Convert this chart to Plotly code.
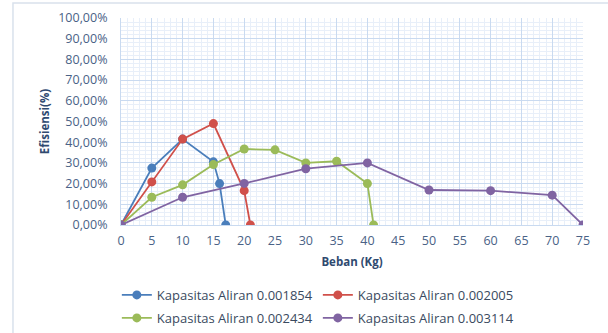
import plotly.graph_objects as go

names = ["Kapasitas Aliran 0.001854", "Kapasitas Aliran 0.002005",
         "Kapasitas Aliran 0.002434", "Kapasitas Aliran 0.003114"]
blue_x = [0, 5, 10, 15, 16, 17]
blue_y = [0, 27.5, 41.5, 30.5, 20.0, 0]
red_x = [0, 5, 10, 15, 20, 21]
red_y = [0, 20.8, 41.5, 49.0, 16.6, 0]
green_x = [0, 5, 10, 15, 20, 25, 30, 35, 40, 41]
green_y = [0, 13.4, 19.4, 29.2, 36.7, 36.3, 30.0, 30.8, 20.0, 0]
purple_x = [0, 10, 20, 30, 40, 50, 60, 70, 75]
purple_y = [0, 13.4, 20.1, 27.2, 30.0, 16.9, 16.6, 14.4, 0]
colors = ["#4a7ebb", "#d0504a", "#9bbb59", "#8064a2"]
legends = ["legend", "legend", "legend2", "legend2"]

y_ticks = list(range(0, 101, 10))
y_text = [f"{v},00%" for v in y_ticks]
x_ticks = list(range(0, 76, 5))

fig = go.Figure()
for nm, xs, ys, c, lg in zip(names, [blue_x, red_x, green_x, purple_x],
                             [blue_y, red_y, green_y, purple_y], colors, legends):
    fig.add_trace(go.Scatter(x=xs, y=ys, name=nm, mode="lines+markers", legend=lg,
                             line=dict(color=c, width=1.8),
                             marker=dict(color=c, size=9)))

tick_color = "#4a6286"
leg_common = dict(orientation="h", xanchor="left", yanchor="middle",
                  entrywidth=156, entrywidthmode="pixels",
                  font=dict(size=13, color="#3a4a60"), itemwidth=30,
                  bgcolor="rgba(0,0,0,0)")
fig.update_layout(
    width=608, height=333,
    margin=dict(l=121, r=25, t=18, b=108, autoexpand=False),
    plot_bgcolor="white", paper_bgcolor="white",
    font=dict(family="Open Sans", size=12.5, color=tick_color),
    xaxis=dict(range=[0, 75], tickvals=x_ticks, showgrid=True,
               gridcolor="#c9daf0", gridwidth=1,
               minor=dict(dtick=1, showgrid=True, gridcolor="#e8eff9", gridwidth=1),
               showline=True, linecolor="#c9daf0", zeroline=False,
               ticks="", ticklabelstandoff=4, tickfont=dict(size=12.5, color=tick_color),
               title=dict(text="<b>Beban (Kg)</b>", font=dict(size=11.5, color="#2f4a70"), standoff=9)),
    yaxis=dict(range=[0, 100], tickvals=y_ticks, ticktext=y_text, showgrid=True,
               gridcolor="#c9daf0", gridwidth=1,
               minor=dict(dtick=2, showgrid=True, gridcolor="#e8eff9", gridwidth=1),
               showline=True, linecolor="#c9daf0", zeroline=False,
               ticks="", ticklabelstandoff=10, tickfont=dict(size=12.5, color=tick_color),
               title=dict(text="<b>Efisiensi(%)</b>", font=dict(size=11.5, color="#2f4a70"), standoff=6)),
    legend=dict(x=-0.009, y=-0.338, **leg_common),
    legend2=dict(x=-0.009, y=-0.449, **leg_common),
    showlegend=True,
)
fig.add_shape(type="rect", xref="paper", yref="paper",
              x0=-0.2338, x1=1.2, y0=-0.6, y1=1.0725,
              line=dict(color="#d9e1ec", width=1.5), layer="below")
fig.write_html("out.html", config={"displayModeBar": False},
               post_script="document.body.style.margin='0px';")
